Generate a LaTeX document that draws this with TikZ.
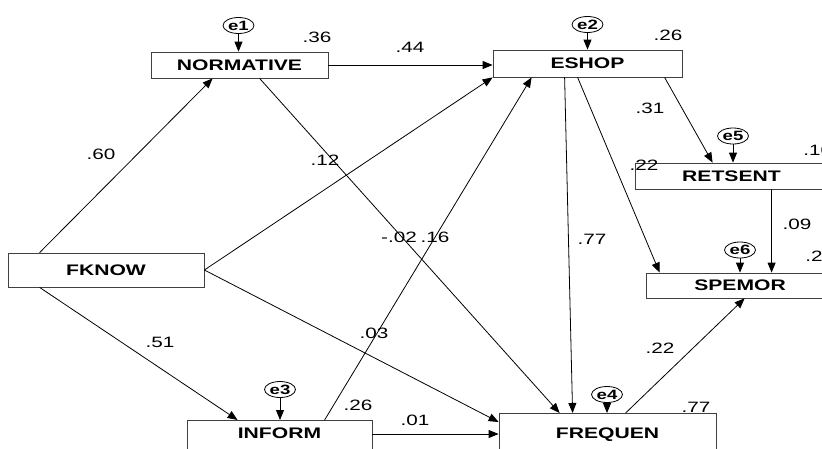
\documentclass[tikz,border=0pt]{standalone}
\usepackage{fontspec}
\usetikzlibrary{arrows.meta,shapes.geometric}
\newfontfamily\amos{Liberation Sans}[FakeStretch=1.38]

\begin{document}
\begin{tikzpicture}[x=1pt, y=-1pt, line width=0.8pt,
                    >={Triangle[length=10pt,width=8pt]}]

  \tikzset{
    box/.style    = {draw=black!75, line width=0.8pt, inner sep=0pt,
                     font=\amos\fontsize{15.3}{16}\selectfont\bfseries},
    cutbox/.style = {box, anchor=north, text height=#1, text depth=20pt,
                     inner ysep=0pt},
    err/.style    = {draw, ellipse, line width=0.8pt, minimum width=31pt,
                     minimum height=16pt, inner sep=0pt,
                     font=\amos\fontsize{13.5}{14}\selectfont\bfseries},
    coef/.style   = {font=\amos\fontsize{15}{16}\selectfont, inner sep=0pt},
  }

  \useasboundingbox (0,0) rectangle (822,448);

  % ---- observed variables -----------------------------------------------
  \node[box, minimum width=177pt, minimum height=26pt] (normative) at (239.5,65)  {NORMATIVE};
  \node[box, minimum width=189pt, minimum height=27pt] (eshop)     at (587.5,63.5){ESHOP};
  \node[box, minimum width=193pt, minimum height=26pt] (retsent)   at (731.5,176) {RETSENT};
  \node[box, minimum width=188pt, minimum height=25pt] (spemor)    at (740,285.5) {SPEMOR};
  \node[box, minimum width=196pt, minimum height=34pt] (fknow)     at (106,270)   {FKNOW};
  \node[cutbox=18.5pt, minimum width=185pt] (inform)  at (279.5,420) {INFORM};
  \node[cutbox=25.5pt, minimum width=217pt] (frequen) at (607.5,413) {FREQUEN};

  % ---- error terms --------------------------------------------------------
  \foreach \n/\x/\y/\b in {e1/238.5/25.5/normative, e2/587.5/24.5/eshop,
                           e5/733/136/retsent, e6/740/250/spemor,
                           e3/280/389.5/inform, e4/607/394.5/frequen} {
    \node[err] (\n) at (\x,\y) {\n};
    \draw[->] (\n) -- (\n |- \b.north);
  }

  % ---- paths --------------------------------------------------------------
  \draw[->] ([xshift=32pt]fknow.north west) -- ([xshift=62pt]normative.south west);
  \draw[->] (fknow.east) -- (eshop.south west);
  \draw[->] ([xshift=32pt]fknow.south west) -- ([xshift=51pt]inform.north west);
  \draw[->] (fknow.east) -- ([yshift=-9pt]frequen.north west);

  \draw[->] (normative.east) -- (normative.east -| eshop.west);
  \draw[->] ([xshift=109pt]normative.south west) -- ([xshift=61pt]frequen.north west);

  \draw[->] ([xshift=138pt]inform.north west) -- ([xshift=39pt]eshop.south west);
  \coordinate (ifo) at ([yshift=-14pt]inform.north east);
  \draw[->] (ifo) -- (ifo -| frequen.west);

  \draw[->] ([xshift=72pt]eshop.south west)  -- ([xshift=74pt]frequen.north west);
  \draw[->] ([xshift=85pt]eshop.south west)  -- ([xshift=14pt]spemor.north west);
  \draw[->] ([xshift=172pt]eshop.south west) -- ([xshift=78pt]retsent.north west);

  \coordinate (rso) at ([xshift=137pt]retsent.south west);
  \draw[->] (rso) -- (rso |- spemor.north);
  \draw[->] ([xshift=127pt]frequen.north west) -- ([xshift=99pt]spemor.south west);

  % ---- estimates ----------------------------------------------------------
  \foreach \t/\x/\y [count=\i] in {.36/317/37, .26/668/35, .26/358/405, .77/696/407,
      .60/101/154, .51/160/342, .44/410/47, .12/325/160, -.02/399/237, .16/435/237,
      .03/374/333, .77/592/239, .31/650/108, .22/644/165, .09/797/224,
      .22/660/348, .01/415/420} {
    \node[coef] (c\i) at (\x,\y) {\t};
  }
  \node[coef,anchor=west] (r5) at (803,150) {.10};
  \node[coef,anchor=west] (r6) at (805,256) {.2};

\end{tikzpicture}
\end{document}
